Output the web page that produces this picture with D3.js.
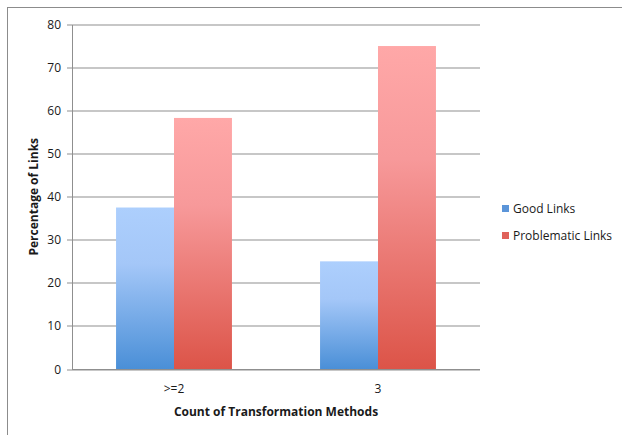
<!DOCTYPE html>
<html>
<head>
<meta charset="utf-8">
<script src="https://cdn.jsdelivr.net/npm/d3@7"></script>
<style>
  html, body { margin: 0; padding: 0; background: #fff; }
  svg { display: block; }
  text { font-family: "Open Sans", "Noto Sans", sans-serif; fill: #1a1a1a; }
</style>
</head>
<body>
<svg id="chart" width="622" height="435"></svg>
<script>
// Share of links by number of transformation methods applied
const categories = [">=2", "3"];
const seriesNames = ["Good Links", "Problematic Links"];
const goodLinks = [37.5, 25];
const problematicLinks = [58.3, 75];
const yTicks = [0, 10, 20, 30, 40, 50, 60, 70, 80];

const series = [
  { name: seriesNames[0], values: goodLinks, grad: "gradGood", swatch: "#5b95d9" },
  { name: seriesNames[1], values: problematicLinks, grad: "gradBad", swatch: "#e0625a" }
];

const svg = d3.select("#chart");
const margin = { left: 72, right: 142, top: 24.5, bottom: 66 };
const W = 622, H = 435;
const plotW = W - margin.left - margin.right;
const plotH = H - margin.top - margin.bottom;

// gradients
const defs = svg.append("defs");
const gradStops = {
  gradGood: [["0%", "#adcffd"], ["35%", "#a4c7f8"], ["100%", "#4a8fd7"]],
  gradBad: [["0%", "#ffa8a8"], ["35%", "#f7999a"], ["100%", "#dc5448"]]
};
Object.entries(gradStops).forEach(([id, stops]) => {
  const g = defs.append("linearGradient").attr("id", id)
    .attr("x1", 0).attr("y1", 0).attr("x2", 0).attr("y2", 1);
  stops.forEach(([o, c]) => g.append("stop").attr("offset", o).attr("stop-color", c));
});

// outer frame
svg.append("rect")
  .attr("x", 7.5).attr("y", 7.5).attr("width", 700).attr("height", 500)
  .attr("fill", "none").attr("stroke", "#8c8c8c").attr("stroke-width", 1);

const g = svg.append("g").attr("transform", `translate(${margin.left},${margin.top})`);

const y = d3.scaleLinear().domain([0, 80]).range([plotH, 0]);
const x0 = d3.scaleBand().domain(categories).range([0, plotW]).paddingInner(0).paddingOuter(0);
const x1 = d3.scaleBand().domain(seriesNames).range([0, x0.bandwidth()]).paddingInner(0).paddingOuter(0.76);

// gridlines
g.append("g").selectAll("line").data(yTicks).join("line")
  .attr("x1", 0).attr("x2", plotW)
  .attr("y1", d => Math.round(y(d)) + 0.5).attr("y2", d => Math.round(y(d)) + 0.5)
  .attr("stroke", "#8f8f8f").attr("stroke-width", 1);

// y axis
const yAxis = g.append("g")
  .call(d3.axisLeft(y).tickValues(yTicks).tickSize(5).tickPadding(6).tickSizeOuter(0));
yAxis.select(".domain").attr("stroke", "#8f8f8f");
yAxis.selectAll(".tick line").attr("stroke", "#8f8f8f");
yAxis.selectAll(".tick").attr("transform", d => `translate(0,${Math.round(y(d)) + 0.5})`);
yAxis.selectAll("text").attr("font-size", 12).attr("fill", "#1a1a1a")
  .style("font-family", "'Open Sans', sans-serif");

// bars
const groups = g.append("g").selectAll("g").data(categories).join("g")
  .attr("transform", d => `translate(${x0(d)},0)`);
groups.selectAll("rect")
  .data((c, i) => series.map(s => ({ s, v: s.values[i] })))
  .join("rect")
  .attr("x", d => x1(d.s.name))
  .attr("width", x1.bandwidth())
  .attr("y", d => y(d.v))
  .attr("height", d => plotH - y(d.v))
  .attr("fill", d => `url(#${d.s.grad})`);

// x axis baseline
g.append("line")
  .attr("x1", 0).attr("x2", plotW)
  .attr("y1", plotH + 0.5).attr("y2", plotH + 0.5)
  .attr("stroke", "#8f8f8f");

// category labels
g.append("g").selectAll("text").data(categories).join("text")
  .attr("x", d => x0(d) + x0.bandwidth() / 2)
  .attr("y", plotH + 24)
  .attr("text-anchor", "middle")
  .attr("font-size", 12)
  .text(d => d);

// axis titles
g.append("text")
  .attr("x", plotW / 2).attr("y", plotH + 47)
  .attr("text-anchor", "middle")
  .attr("font-size", 12).attr("font-weight", "bold")
  .text("Count of Transformation Methods");

g.append("text")
  .attr("transform", `translate(${-34},${plotH / 2}) rotate(-90)`)
  .attr("text-anchor", "middle")
  .attr("font-size", 12).attr("font-weight", "bold")
  .text("Percentage of Links");

// legend
const legend = svg.append("g").attr("transform", "translate(502,205)");
const items = legend.selectAll("g").data(series).join("g")
  .attr("transform", (d, i) => `translate(0,${i * 27})`);
items.append("rect")
  .attr("x", 0).attr("y", 0).attr("width", 7).attr("height", 7)
  .attr("fill", d => d.swatch);
items.append("text")
  .attr("x", 11).attr("y", 8)
  .attr("font-size", 12)
  .text(d => d.name);
</script>
</body>
</html>
